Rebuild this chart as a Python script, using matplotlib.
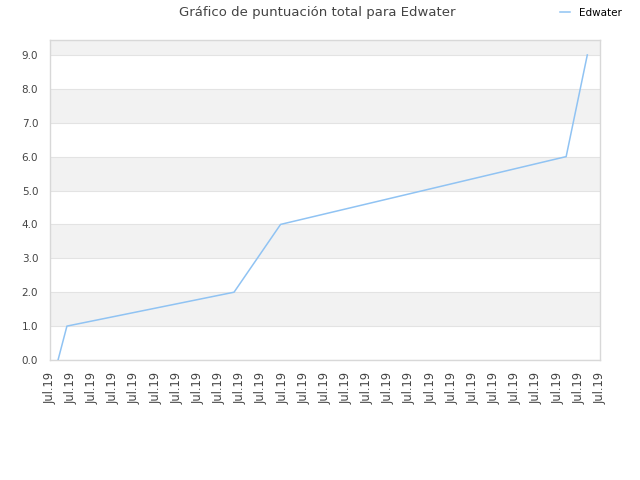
import matplotlib
matplotlib.use("Agg")
import matplotlib.pyplot as plt

# data
x_pos = [0.38, 0.80, 8.70, 10.90, 24.40, 25.40]
scores = [0, 1, 2, 4, 6, 9]
tick_labels = ["Jul.19"] * 27
series_name = "Edwater"

fig = plt.figure(figsize=(6.4, 4.8), dpi=100)
ax = fig.add_axes([50 / 640, 120 / 480, 550 / 640, 320 / 480])

ymax = 9.44
# alternating bands
for lo in range(0, 10):
    hi = min(lo + 1, ymax)
    if lo % 2 == 1:
        col = "#f2f2f2"
    elif lo == 9:
        col = "#eeeeee"
    else:
        col = "white"
    ax.axhspan(lo, hi, color=col, zorder=0, lw=0)

ax.plot(x_pos, scores, color="#90c3f3", lw=1.1, label=series_name, zorder=3)

ax.set_xlim(0, 26)
ax.set_ylim(0, ymax)
ax.set_xticks(range(len(tick_labels)))
ax.set_xticklabels(tick_labels, rotation=90, fontsize=8.3, color="#444444")
ax.set_yticks(range(0, 10))
ax.set_yticklabels([f"{v:.1f}" for v in range(0, 10)], fontsize=7.5, color="#444444")
ax.tick_params(axis="x", length=0, pad=8.5)
ax.tick_params(axis="y", length=0, pad=8.5)
ax.grid(axis="y", color="#e3e3e3", lw=0.8, zorder=1)
for s in ax.spines.values():
    s.set_color("#d8d8d8")
    s.set_linewidth(1)

fig.text(0.495, 0.974, "Gráfico de puntuación total para Edwater", ha="center", va="center",
         fontsize=9.5, color="#444444")
fig.legend(loc="upper right", bbox_to_anchor=(0.986, 1.003), frameon=False, fontsize=7.5,
           handlelength=1.0, handletextpad=0.8)

fig.savefig("out.png", dpi=100)
